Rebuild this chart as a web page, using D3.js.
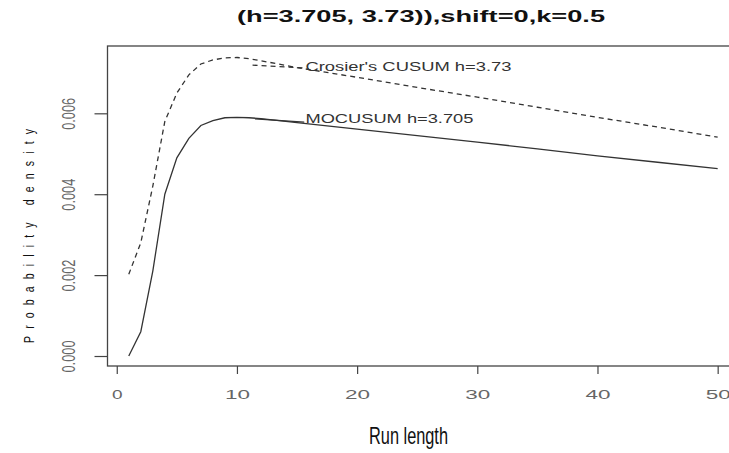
<!DOCTYPE html>
<html lang="en">
<head>
<meta charset="utf-8">
<script src="https://cdnjs.cloudflare.com/ajax/libs/d3/7.8.5/d3.min.js"></script>
<style>
  body { margin: 0; background: #fff; }
  svg { display: block; font-family: "Liberation Sans", Arial, sans-serif; }
  .curve { fill: none; stroke: #333; stroke-width: 1.3px; }
  .tick line { stroke: #444; stroke-width: 1.2px; }
  .tick text { fill: #666; }
</style>
</head>
<body>
<svg width="729" height="453"></svg>
<script>
// MOCUSUM h=3.705 (solid)
var mocX = [1, 2, 3, 4, 5, 6, 7, 8, 9, 10, 11, 12, 15, 20, 25, 30, 35, 40, 45, 50];
var mocY = [0.0000, 0.0006, 0.0021, 0.0040, 0.0049, 0.00538, 0.0057, 0.00582, 0.00589, 0.00590,
            0.00589, 0.00587, 0.00577, 0.00561, 0.00545, 0.00529, 0.00512, 0.00495, 0.00479, 0.00463];
// Crosier's CUSUM h=3.73 (dashed)
var croX = [1, 2, 3, 4, 5, 6, 7, 8, 9, 10, 11, 12, 15, 20, 25, 30, 35, 40, 45, 50];
var croY = [0.00202, 0.0028, 0.0042, 0.0058, 0.0065, 0.00695, 0.00722, 0.00732, 0.00737, 0.00738,
            0.00735, 0.0073, 0.00713, 0.00689, 0.00664, 0.0064, 0.00615, 0.0059, 0.00566, 0.00541];
var xTicks = [0, 10, 20, 30, 40, 50];
var yTicks = [0, 0.002, 0.004, 0.006];

var titleText = "(h=3.705, 3.73)),shift=0,k=0.5";
var xLab = "Run length";
var yLab = "Probability density";
// label text, anchor point (x, y in data units) and leader segment
var notes = [
  {text: "Crosier's CUSUM h=3.73", x: 15.7, y: 0.00704, len: 206, seg: [[11.3, 0.00719], [15.5, 0.00712]], dash: "5,4"},
  {text: "MOCUSUM h=3.705", x: 15.7, y: 0.00575, len: 168, seg: [[11.5, 0.00586], [15.6, 0.00578]], dash: null}
];

var svg = d3.select("svg");

var x = d3.scaleLinear().domain([-0.77, 52]).range([107.5, 741.7]);
var y = d3.scaleLinear().domain([-0.000247, 0.007664]).range([366, 46]);

// title
svg.append("text")
  .attr("x", 421).attr("y", 21.7)
  .attr("text-anchor", "middle")
  .attr("font-size", 16).attr("font-weight", "bold")
  .attr("fill", "#111")
  .attr("textLength", 368).attr("lengthAdjust", "spacingAndGlyphs")
  .text(titleText);

// plot box (right side falls outside the window)
svg.append("rect")
  .attr("x", x.range()[0]).attr("y", y.range()[1])
  .attr("width", x.range()[1] - x.range()[0])
  .attr("height", y.range()[0] - y.range()[1])
  .attr("fill", "none").attr("stroke", "#444").attr("stroke-width", 1.3);

// x axis
var gx = svg.append("g")
  .attr("transform", "translate(0," + y.range()[0] + ")")
  .call(d3.axisBottom(x).tickValues(xTicks).tickSize(8).tickFormat(d3.format("d")));
gx.select(".domain").remove();
gx.selectAll(".tick text")
  .attr("y", 32.5).attr("dy", null)
  .attr("font-size", 12)
  .attr("textLength", function (d) { return d == 0 ? 10.6 : 25; })
  .attr("lengthAdjust", "spacingAndGlyphs");

// y axis
var gy = svg.append("g")
  .attr("transform", "translate(" + x.range()[0] + ",0)")
  .call(d3.axisLeft(y).tickValues(yTicks).tickSize(13).tickFormat(d3.format(".3f")));
gy.select(".domain").remove();
gy.selectAll(".tick text")
  .attr("x", null).attr("dy", null)
  .attr("text-anchor", "middle")
  .attr("transform", "translate(-32.5,0) rotate(-90)")
  .attr("font-size", 18)
  .attr("textLength", 32)
  .attr("lengthAdjust", "spacingAndGlyphs");

// axis titles
svg.append("text")
  .attr("x", 408.5).attr("y", 444)
  .attr("text-anchor", "middle")
  .attr("font-size", 24).attr("fill", "#111")
  .attr("textLength", 79).attr("lengthAdjust", "spacingAndGlyphs")
  .text(xLab);

// narrow, widely spaced letters like the original
svg.append("text")
  .attr("transform", "translate(34,236) rotate(-90) scale(0.7,1)")
  .attr("text-anchor", "middle")
  .attr("font-size", 15).attr("fill", "#111")
  .attr("textLength", 214 / 0.7).attr("lengthAdjust", "spacing")
  .text(yLab);

// curves
var line = d3.line()
  .x(function (d) { return x(d[0]); })
  .y(function (d) { return y(d[1]); });

svg.append("path")
  .datum(d3.zip(croX, croY))
  .attr("class", "curve")
  .attr("stroke", "#444")
  .attr("stroke-dasharray", "5,4")
  .attr("d", line);

svg.append("path")
  .datum(d3.zip(mocX, mocY))
  .attr("class", "curve")
  .attr("d", line);

// labels with leader segments
notes.forEach(function (n) {
  svg.append("path")
    .datum(n.seg)
    .attr("class", "curve")
    .attr("stroke-dasharray", n.dash)
    .attr("d", line);
  svg.append("text")
    .attr("x", x(n.x)).attr("y", y(n.y))
    .attr("font-size", 12.5).attr("fill", "#333")
    .attr("textLength", n.len).attr("lengthAdjust", "spacingAndGlyphs")
    .text(n.text);
});
</script>
</body>
</html>
